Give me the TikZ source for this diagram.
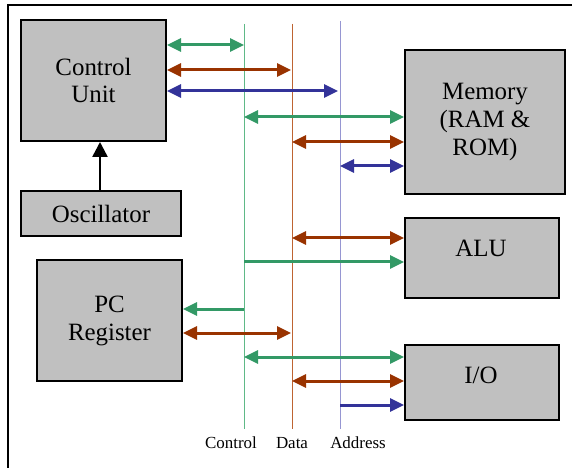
\documentclass[tikz,border=0pt]{standalone}
\usepackage{fontspec}
\setmainfont{Liberation Serif}
\usetikzlibrary{arrows.meta}
\definecolor{cgreen}{RGB}{51,153,102}
\definecolor{cred}{RGB}{153,51,0}
\definecolor{cblue}{RGB}{51,51,153}
\definecolor{lgreen}{RGB}{95,185,135}
\definecolor{lred}{RGB}{190,100,50}
\definecolor{lblue}{RGB}{150,150,210}
\definecolor{boxgray}{RGB}{192,192,192}
\begin{document}
\begin{tikzpicture}[x=1bp,y=-1bp,
  unitbox/.style={draw=black, line width=2bp, fill=boxgray, inner sep=0pt, anchor=north west, align=center,
    font=\fontsize{25}{28}\selectfont},
  boxtext/.style={inner sep=0pt, align=center, font=\fontsize{25}{28}\selectfont},
  busline/.style={line width=1bp},
  tip/.tip={Triangle[length=14bp,width=13bp]},
  both/.style={line width=3bp, {tip}-{tip}},
  fwd/.style={line width=3bp, -{tip}},
  buslabel/.style={inner sep=0pt, font=\fontsize{17}{19}\selectfont}
]
\useasboundingbox[fill=white] (0,0) rectangle (572,468);
\draw[line width=2.5bp] (8,472) -- (8,5) -- (576,5);

% boxes
\node[unitbox, minimum width=145bp, minimum height=121bp] (cu) at (20,19) {Control\\Unit};
\node[unitbox, minimum width=160bp, minimum height=45bp] (osc) at (20,190) {Oscillator};
\node[unitbox, minimum width=145bp, minimum height=121bp] (pc) at (36,259) {PC\\Register};
\node[unitbox, minimum width=160bp, minimum height=144bp] (mem) at (404,49) {Memory\\(RAM \&\\ROM)};
\node[unitbox, minimum width=154bp, minimum height=80bp] (alu) at (404,217) {};
\node[boxtext] (alut) at (481,248) {ALU};
\node[unitbox, minimum width=154bp, minimum height=75bp] (io) at (404,344) {};
\node[boxtext] (iot) at (481,375) {I/O};

% buses
\coordinate (ctop) at (244,24);
\coordinate (cbot) at (244,429);
\coordinate (dtop) at (292,24);
\coordinate (dbot) at (292,429);
\coordinate (atop) at (340,21);
\coordinate (abot) at (340,429);
\draw[busline, lgreen] (ctop) -- (cbot);
\draw[busline, lred] (dtop) -- (dbot);
\draw[busline, lblue] (atop) -- (abot);

\node[buslabel] (lc) at (231,443) {Control};
\node[buslabel] (ld) at (292,443) {Data};
\node[buslabel] (la) at (358,443) {Address};

% oscillator to control unit
\draw[line width=2.5bp, -{Triangle[length=15bp,width=15bp]}] (osc.north -| 100,0) -- (cu.south -| 100,0);

% bus taps
\coordinate (g1) at (244,45);
\coordinate (r1) at (291,70);
\coordinate (b1) at (338,91);
\coordinate (g2) at (244,117);
\coordinate (r2) at (292,142);
\coordinate (b2) at (340,166);
\coordinate (r3) at (292,238);
\coordinate (g3) at (244,262);
\coordinate (g4) at (244,309);
\coordinate (r4) at (291,333);
\coordinate (g5) at (244,357);
\coordinate (r5) at (292,381);
\coordinate (b3) at (340,405);

\draw[both, cgreen] (cu.east |- g1) -- (g1);
\draw[both, cred] (cu.east |- r1) -- (r1);
\draw[both, cblue] (cu.east |- b1) -- (b1);
\draw[both, cgreen] (g2) -- (mem.west |- g2);
\draw[both, cred] (r2) -- (mem.west |- r2);
\draw[both, cblue] (b2) -- (mem.west |- b2);
\draw[both, cred] (r3) -- (alu.west |- r3);
\draw[fwd, cgreen] (g3) -- (alu.west |- g3);
\draw[fwd, cgreen] (g4) -- (pc.east |- g4);
\draw[both, cred] (pc.east |- r4) -- (r4);
\draw[both, cgreen] (g5) -- (io.west |- g5);
\draw[both, cred] (r5) -- (io.west |- r5);
\draw[fwd, cblue] (b3) -- (io.west |- b3);
\end{tikzpicture}
\end{document}
